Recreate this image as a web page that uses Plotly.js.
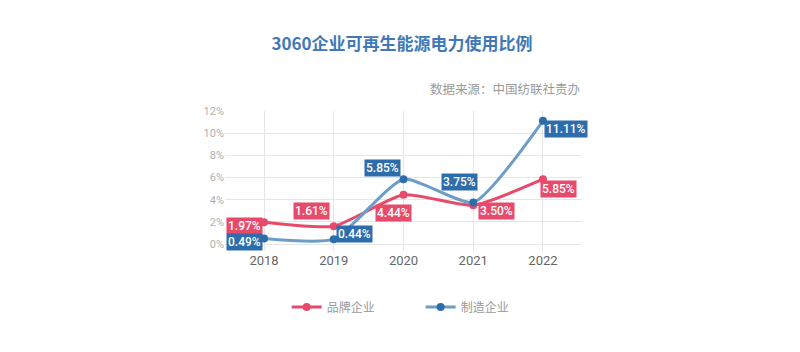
<!DOCTYPE html>
<html><head><meta charset="utf-8">
<script src="https://cdn.plot.ly/plotly-3.0.1.min.js"></script>
<style>html,body{margin:0;padding:0;background:#fff}#c{width:800px;height:352px}</style>
</head><body><div id="c"></div>
<script>
const years = ['2018','2019','2020','2021','2022'];
const brand = [1.97, 1.61, 4.44, 3.50, 5.85];
const manuf = [0.49, 0.44, 5.85, 3.75, 11.11];
const brandLabels = ['1.97%','1.61%','4.44%','3.50%','5.85%'];
const manufLabels = ['0.49%','0.44%','5.85%','3.75%','11.11%'];
const brandShift = [[-20,-4],[-22,15],[-10,-18],[23,-6],[16,-10]];
const manufShift = [[-20,-3],[21,5],[-21,11],[-14,20],[23,-8]];

const pink = '#e84a6b', blueLine = '#6c9dc9', blueDark = '#2e6dab';
const traces = [
  {x: years, y: brand, name: '品牌企业', type: 'scatter', mode: 'lines+markers',
   line: {color: pink, width: 3, shape: 'spline', smoothing: 0.55}, marker: {color: pink, size: 8}},
  {x: years, y: manuf, name: '制造企业', type: 'scatter', mode: 'lines+markers',
   line: {color: blueLine, width: 3, shape: 'spline', smoothing: 0.55}, marker: {color: blueDark, size: 8}}
];
const ann = [];
function addLabels(vals, labels, shifts, bg) {
  vals.forEach((v, i) => ann.push({x: i, y: v, xref: 'x', yref: 'y', text: labels[i], showarrow: false,
    xshift: shifts[i][0], yshift: shifts[i][1], bgcolor: bg, borderpad: 1,
    font: {family: 'Roboto', size: 12, color: '#fff', weight: 500}}));
}
addLabels(brand, brandLabels, brandShift, pink);
addLabels(manuf, manufLabels, manufShift, blueDark);
ann.push({xref: 'paper', yref: 'paper', x: 1, y: 1, yshift: 23, xanchor: 'right', yanchor: 'middle', showarrow: false,
  text: '数据来源：中国纺联社责办', font: {family: 'Noto Sans CJK SC', size: 12.5, color: '#9a9a9a'}});

Plotly.newPlot('c', traces, {
  width: 800, height: 352, margin: {l: 225, r: 218, t: 111, b: 101},
  paper_bgcolor: '#fff', plot_bgcolor: '#fff',
  title: {text: '3060企业可再生能源电力使用比例', x: 0.496, xref: 'paper', y: 0.875, yanchor: 'middle',
    font: {family: 'Noto Sans CJK SC', size: 17, color: '#4079b5', weight: 'bold'}},
  xaxis: {type: 'category', range: [-0.56, 4.56], showgrid: true, gridcolor: '#e6e6e6', gridwidth: 1,
    zeroline: false, showline: false, ticks: '', tickfont: {family: 'Roboto', size: 13, color: '#666'}},
  yaxis: {range: [-0.63, 12], tickvals: [0,2,4,6,8,10,12], ticktext: ['0%','2%','4%','6%','8%','10%','12%'],
    showgrid: true, gridcolor: '#e6e6e6', zeroline: false, showline: false, ticks: '',
    tickfont: {family: 'Roboto', size: 11, color: '#b0b0b0'}},
  legend: {orientation: 'h', x: 0.548, xanchor: 'center', y: -0.4, yanchor: 'middle',
    font: {family: 'Noto Sans CJK SC', size: 12, color: '#999'}, entrywidth: 89},
  annotations: ann,
  showlegend: true
}, {displayModeBar: false, staticPlot: true});
</script></body></html>
